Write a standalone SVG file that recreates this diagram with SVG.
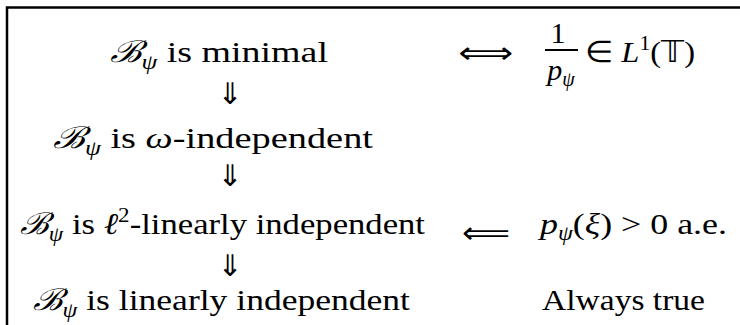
<svg xmlns="http://www.w3.org/2000/svg" width="740" height="325" viewBox="0 0 740 325">
<rect width="740" height="325" fill="#fff"/>
<path d="M7,325 V7.5 H740" fill="none" stroke="#000" stroke-width="2.5"/>
<g font-family="Liberation Serif" font-size="30" fill="#000">
<g id="n1">
<text x="110" y="62" textLength="218" lengthAdjust="spacingAndGlyphs"><tspan font-family="DejaVu Serif" font-style="italic">&#x212C;</tspan><tspan font-size="20" font-style="italic" dy="7">&#x3C8;</tspan><tspan dy="-7"> is minimal</tspan></text>
</g>
<g id="n2">
<text x="53" y="148" textLength="320" lengthAdjust="spacingAndGlyphs"><tspan font-family="DejaVu Serif" font-style="italic">&#x212C;</tspan><tspan font-size="20" font-style="italic" dy="7">&#x3C8;</tspan><tspan dy="-7"> is </tspan><tspan font-style="italic">&#x3C9;</tspan>-independent</text>
</g>
<g id="n3">
<text x="20" y="234" textLength="405" lengthAdjust="spacingAndGlyphs"><tspan font-family="DejaVu Serif" font-style="italic">&#x212C;</tspan><tspan font-size="20" font-style="italic" dy="7">&#x3C8;</tspan><tspan dy="-7"> is </tspan><tspan font-style="italic">&#x2113;</tspan><tspan font-size="20" dy="-12">2</tspan><tspan dy="12">-linearly independent</tspan></text>
</g>
<g id="n4">
<text x="33" y="310" textLength="377" lengthAdjust="spacingAndGlyphs"><tspan font-family="DejaVu Serif" font-style="italic">&#x212C;</tspan><tspan font-size="20" font-style="italic" dy="7">&#x3C8;</tspan><tspan dy="-7"> is linearly independent</tspan></text>
</g>
<g id="r1">
<text x="558" y="43" text-anchor="middle">1</text>
<line x1="545" y1="50" x2="578" y2="50" stroke="#000" stroke-width="1.8"/>
<text x="561" y="80" text-anchor="middle"><tspan font-style="italic">p</tspan><tspan font-size="20" font-style="italic" dy="6">&#x3C8;</tspan></text>
<text x="585" y="62" textLength="110" lengthAdjust="spacingAndGlyphs">&#x2208; <tspan font-style="italic">L</tspan><tspan font-size="20" dy="-12">1</tspan><tspan dy="12">(</tspan><tspan font-family="DejaVu Sans">&#x1D54B;</tspan>)</text>
</g>
<g id="r3">
<text x="540" y="234" textLength="187" lengthAdjust="spacingAndGlyphs"><tspan font-style="italic">p</tspan><tspan font-size="20" font-style="italic" dy="6">&#x3C8;</tspan><tspan dy="-6">(</tspan><tspan font-style="italic">&#x3BE;</tspan>) &gt; 0 a.e.</text>
</g>
<g id="r4">
<text x="542" y="310" textLength="163" lengthAdjust="spacingAndGlyphs">Always true</text>
</g>
</g>
<g id="connectors" font-family="DejaVu Sans" font-size="30" fill="#000">
<text x="230" y="104" text-anchor="middle">&#x21D3;</text>
<text x="230" y="186" text-anchor="middle">&#x21D3;</text>
<text x="230" y="276" text-anchor="middle">&#x21D3;</text>
<text x="458" y="63" textLength="55" lengthAdjust="spacingAndGlyphs">&#x27FA;</text>
<text x="462" y="243" textLength="48" lengthAdjust="spacingAndGlyphs">&#x27F8;</text>
</g>
</svg>
